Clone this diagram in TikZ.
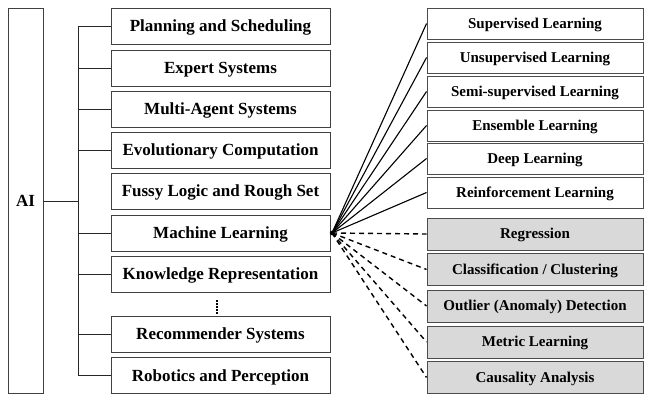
\documentclass[tikz,border=0pt]{standalone}
\usepackage{fontspec}
\setmainfont{Liberation Serif}
\begin{document}
\begin{tikzpicture}[x=1pt,y=-1pt,
  lbox/.style={draw=black!75, line width=0.9pt, minimum width=219pt, minimum height=36pt, inner sep=0pt,
    font=\fontsize{17}{19}\selectfont\bfseries, text height=11pt, text depth=0pt},
  rbox/.style={draw=black!70, line width=0.9pt, minimum width=216pt, minimum height=31pt, inner sep=0pt,
    font=\fontsize{15}{17}\selectfont\bfseries, text height=9.6pt, text depth=0pt},
  gbox/.style={rbox, fill=black!15, minimum height=32pt},
  conn/.style={draw=black!85, line width=0.9pt},
  ray/.style={draw=black, line width=1.1pt},
  dray/.style={draw=black, line width=1.4pt, dash pattern=on 5pt off 4pt}]
\useasboundingbox (0,0) rectangle (648,404);
\fill[white] (0,0) rectangle (648,404);
% AI
\node[draw=black!75, line width=0.9pt, minimum width=35pt, minimum height=385pt, inner sep=0pt,
  font=\fontsize{17}{19}\selectfont\bfseries, text height=11pt, text depth=0pt] (ai) at (25.5,200.5) {AI};
% left boxes
\node[lbox] (l1) at (220.5,26) {Planning and Scheduling};
\node[lbox] (l2) at (220.5,68) {Expert Systems};
\node[lbox] (l3) at (220.5,109) {Multi-Agent Systems};
\node[lbox] (l4) at (220.5,150) {Evolutionary Computation};
\node[lbox] (l5) at (220.5,191) {Fussy Logic and Rough Set};
\node[lbox] (l6) at (220.5,233) {Machine Learning};
\node[lbox] (l7) at (220.5,274) {Knowledge Representation};
\node[lbox] (l8) at (220.5,334) {Recommender Systems};
\node[lbox] (l9) at (220.5,375.5) {Robotics and Perception};
\coordinate (d1) at (217,300);
\coordinate (d2) at (217,314);
\draw[line width=1.3pt, dash pattern=on 1.5pt off 1.5pt] (d1) -- (d2);
% trunk
\coordinate (ttop) at (78,26);
\coordinate (tbot) at (78,375.5);
\coordinate (tai) at (78,201);
\draw[conn] (ttop) -- (tbot);
\draw[conn] (ai.east |- tai) -- (tai);
\foreach \n in {l1,l2,l3,l4,l6,l7,l8,l9} \draw[conn] (\n.west -| ttop) -- (\n.west);
% right boxes
\node[rbox] (r1) at (535,23.5) {Supervised Learning};
\node[rbox] (r2) at (535,57.5) {Unsupervised Learning};
\node[rbox] (r3) at (535,91.5) {Semi-supervised Learning};
\node[rbox] (r4) at (535,125.5) {Ensemble Learning};
\node[rbox] (r5) at (535,158.5) {Deep Learning};
\node[rbox] (r6) at (535,192.5) {Reinforcement Learning};
\node[gbox] (g1) at (535,234) {Regression};
\node[gbox] (g2) at (535,269.5) {Classification / Clustering};
\node[gbox] (g3) at (535,306) {Outlier (Anomaly) Detection};
\node[gbox] (g4) at (535,342) {Metric Learning};
\node[gbox] (g5) at (535,377.5) {Causality Analysis};
% hub
\coordinate (hub) at (332,233);
\foreach \n in {r1,r2,r3,r4,r5,r6} \draw[ray] (hub) -- (\n.west);
\foreach \n in {g1,g2,g3,g4,g5} \draw[dray] (hub) -- (\n.west);
\fill[black] (hub) circle (2.3pt);
\end{tikzpicture}
\end{document}
